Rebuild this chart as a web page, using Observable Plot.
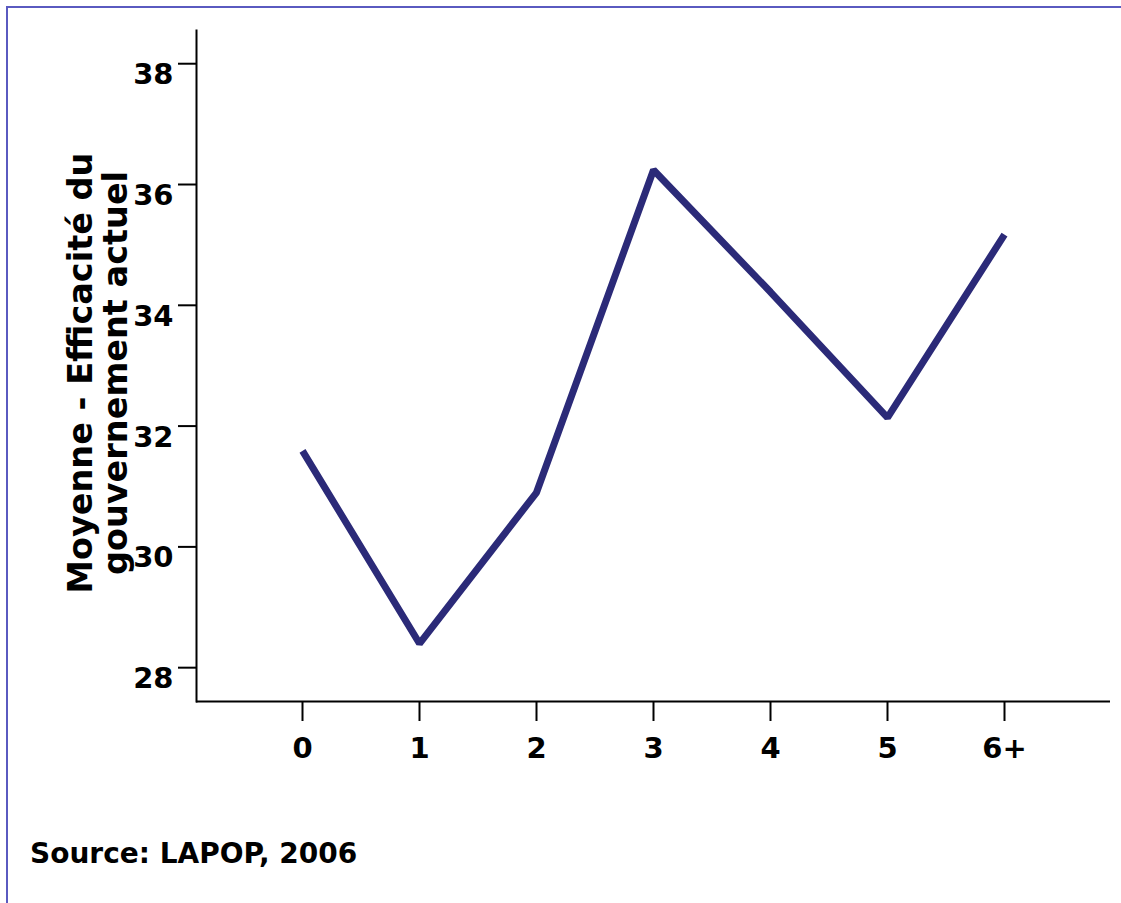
<!DOCTYPE html>
<html>
<head>
<meta charset="utf-8">
<script src="https://cdn.jsdelivr.net/npm/d3@7"></script>
<script src="https://cdn.jsdelivr.net/npm/@observablehq/plot@0.6"></script>
<style>
  html, body { margin: 0; padding: 0; background: #fff; }
  #wrap { position: relative; width: 1121px; height: 903px; overflow: hidden; background: #fff; }
  #border { position: absolute; left: 6px; top: 6px; width: 1200px; height: 1000px;
            border-top: 2px solid #5a5ac0; border-left: 2px solid #5a5ac0; box-sizing: border-box; }
  #chart { position: absolute; left: 0; top: 0; }
  #source { position: absolute; left: 30px; top: 840px; font-family: "DejaVu Sans", sans-serif;
            font-weight: bold; font-size: 28px; line-height: 1; color: #000; white-space: nowrap; }
</style>
</head>
<body>
<div id="wrap">
  <div id="border"></div>
  <div id="chart"></div>
  <div id="source">Source: LAPOP, 2006</div>
</div>
<script>
const categories = ["0", "1", "2", "3", "4", "5", "6+"];
const values = [31.59, 28.4, 30.9, 36.24, 34.22, 32.14, 35.17];
const yTicks = [28, 30, 32, 34, 36, 38];
const yTitle = "Moyenne - Efficacité du\ngouvernement actuel";

const data = categories.map((c, i) => ({cat: c, value: values[i]}));

const chart = Plot.plot({
  width: 1121,
  height: 800,
  marginTop: 30,
  marginBottom: 99,
  marginLeft: 196,
  marginRight: 11,
  style: {fontFamily: "DejaVu Sans", fontWeight: "bold", color: "#000", background: "transparent"},
  x: {type: "point", domain: categories, padding: 0.9},
  y: {domain: [27.44, 38.55]},
  marks: [
    Plot.frame({anchor: "left", stroke: "#000", strokeWidth: 2}),
    Plot.ruleY([27.44], {stroke: "#000", strokeWidth: 2}),
    Plot.axisY({ticks: yTicks, tickSize: 18, tickPadding: 5, label: null, fontSize: 29, fontWeight: "bold", strokeWidth: 2, lineAnchor: "top"}),
    Plot.axisX({tickSize: 20, tickPadding: 16, label: null, fontSize: 29, fontWeight: "bold", strokeWidth: 2}),
    Plot.line(data, {x: "cat", y: "value", stroke: "#2b2a78", strokeWidth: 7, strokeLinejoin: "miter", strokeLinecap: "butt"}),
    Plot.text([yTitle], {frameAnchor: "left", rotate: -90, textAnchor: "middle", lineAnchor: "middle",
      lineHeight: 1.05, fontSize: 33.5, fontWeight: "bold", dx: -98, dy: 7, fill: "#000"})
  ]
});
document.getElementById("chart").appendChild(chart);
</script>
</body>
</html>
